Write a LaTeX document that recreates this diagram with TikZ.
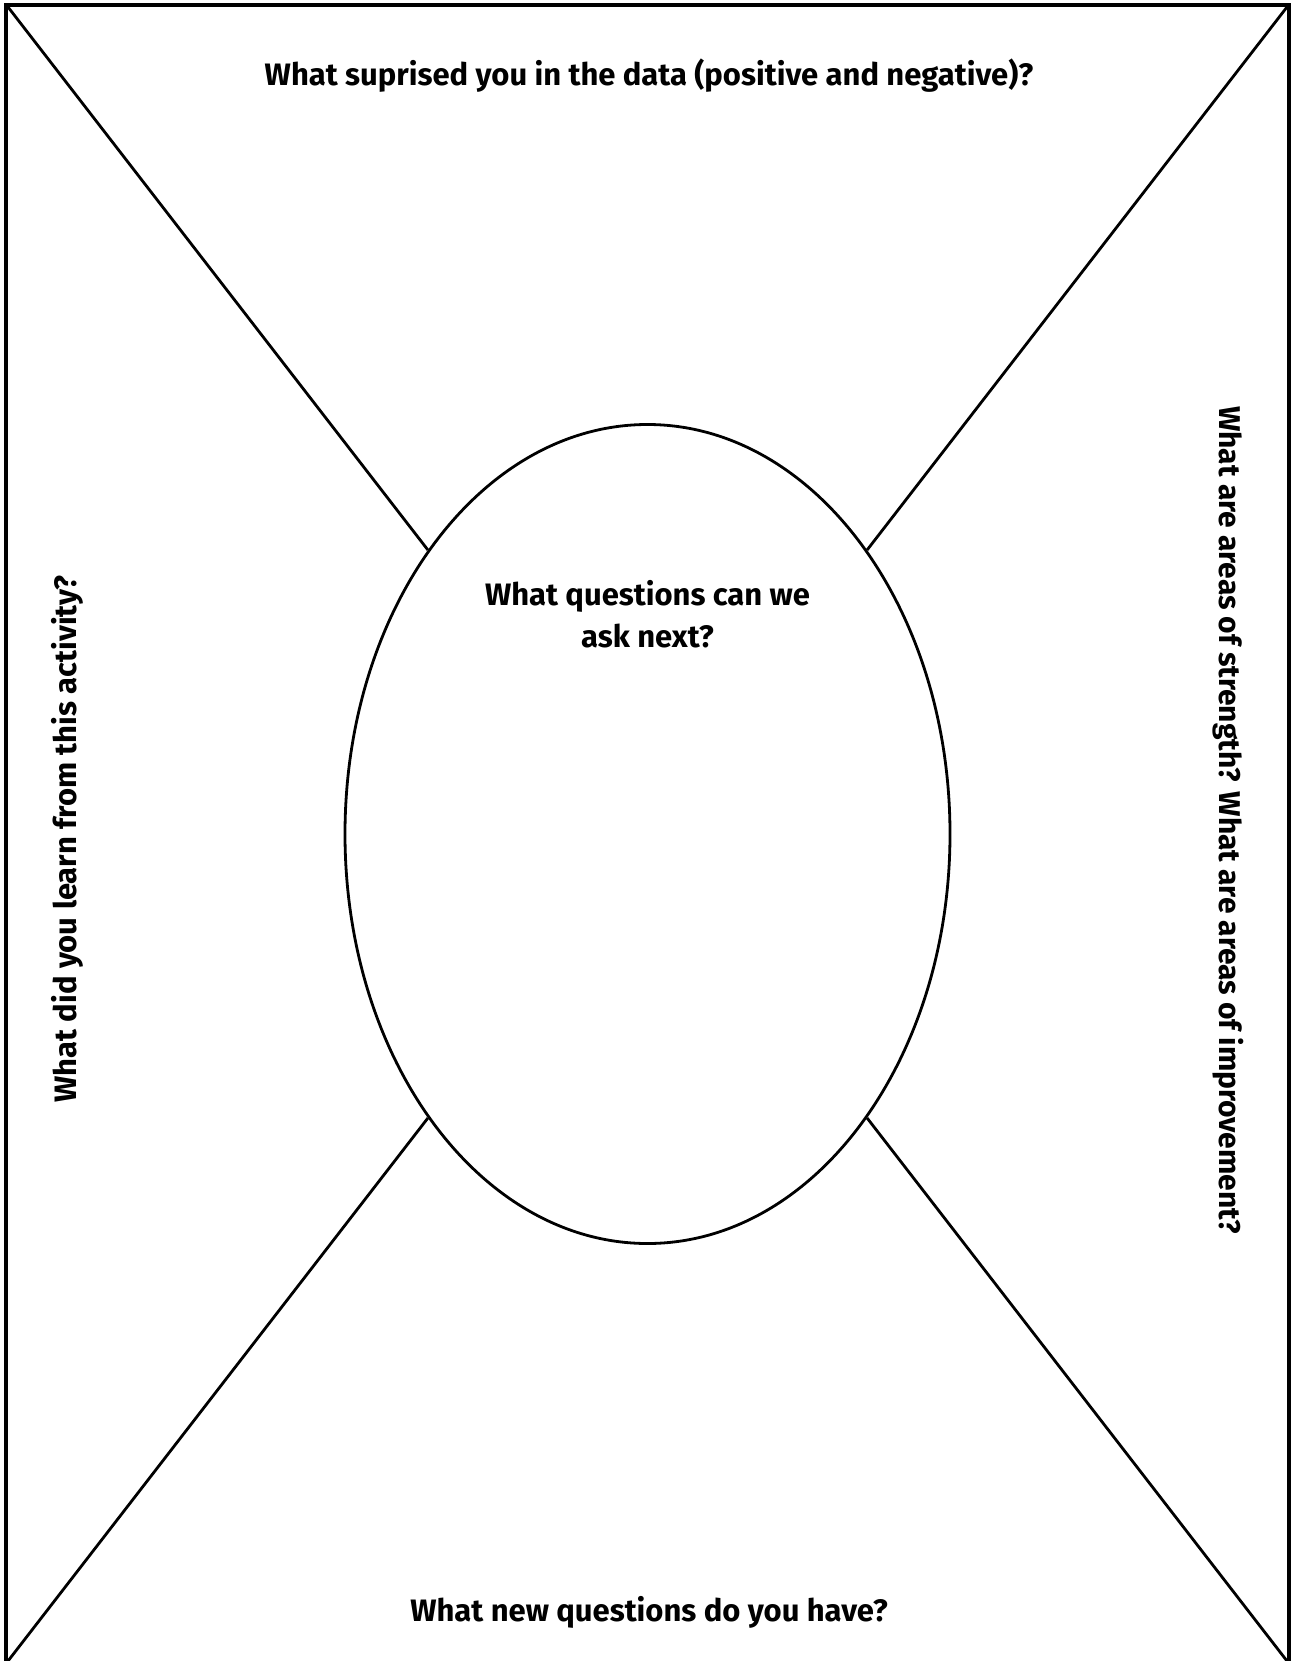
\documentclass[tikz,border=0pt]{standalone}
\usepackage{fontspec}
\setmainfont{Fira Sans}
\usetikzlibrary{shapes.geometric}

\begin{document}
\begin{tikzpicture}[x=1pt,y=-1pt,
  frame/.style={line width=3.5pt},
  spoke/.style={line width=2.8pt},
  hub/.style={draw,ellipse,line width=2.8pt,minimum width=605pt,minimum height=819pt,inner sep=0pt},
  prompt/.style={font=\fontsize{31}{42}\selectfont\bfseries,align=center,inner sep=0pt}]
\useasboundingbox (0,0) rectangle (1293,1661);
% frame, open at the bottom
\coordinate (tl) at (8,7);
\coordinate (tr) at (1287,7);
\coordinate (bl) at (8,1661);
\coordinate (br) at (1287,1661);
\draw[frame] (6,1665) -- (6,5) -- (1289,5) -- (1289,1665);
\node[hub] (hub) at (647.5,834) {};
\draw[spoke] (tl) -- (hub); \draw[spoke] (tr) -- (hub);
\draw[spoke] (bl) -- (hub); \draw[spoke] (br) -- (hub);
% prompts
\node[prompt,anchor=base] (top) at (649,86) {What suprised you in the data (positive and negative)?};
\node[prompt,anchor=base] (next) at (647.5,647) {What questions can we\\ask next?};
\node[prompt,anchor=base] (bottom) at (649,1621) {What new questions do you have?};
\node[prompt,rotate=90] (left) at (67,839) {What did you learn from this activity?};
\node[prompt,font=\fontsize{30}{42}\selectfont\bfseries,rotate=-90] (right) at (1228,820) {What are areas of strength? What are areas of improvement?};
\end{tikzpicture}
\end{document}
